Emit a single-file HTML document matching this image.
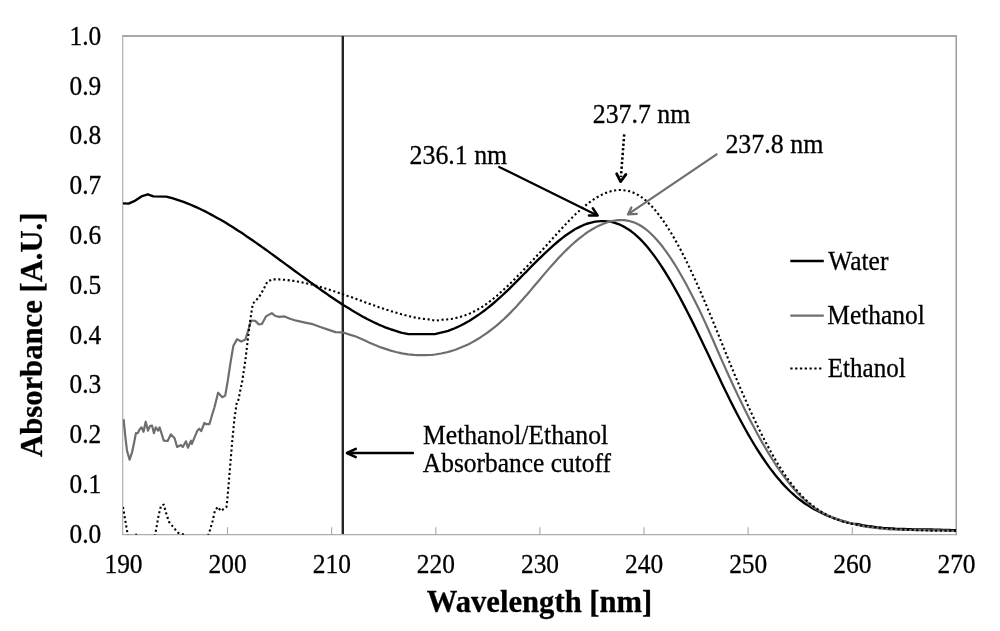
<!DOCTYPE html>
<html lang="en">
<head>
<meta charset="utf-8">
<title>UV absorbance spectra</title>
<style>
html,body{margin:0;padding:0;background:#fff;}
body{width:1000px;height:631px;overflow:hidden;}
svg{display:block;will-change:transform;filter:blur(0.45px);}
text{font-family:"Liberation Serif",serif;fill:#000;stroke:#000;stroke-width:0.3px;}
.t{font-size:26.5px;}
.b{font-size:31.5px;font-weight:bold;}
</style>
</head>
<body>
<svg width="1000" height="631" viewBox="0 0 1000 631">
<rect x="0" y="0" width="1000" height="631" fill="#fff"/>
<defs><clipPath id="pc"><rect x="123" y="36" width="834" height="498.8"/></clipPath></defs>
<!-- plot border -->
<path d="M122.2,36 H956.2 V535.2" fill="none" stroke="#8c8c8c" stroke-width="1.3"/>
<path d="M122.7,35.4 V534.7 H956.8" fill="none" stroke="#adadad" stroke-width="1.2"/>

<g stroke="#a8a8a8" stroke-width="1.1">
<line x1="227.5" y1="534.5" x2="227.5" y2="527.2"/>
<line x1="331.6" y1="534.5" x2="331.6" y2="527.2"/>
<line x1="435.8" y1="534.5" x2="435.8" y2="527.2"/>
<line x1="539.9" y1="534.5" x2="539.9" y2="527.2"/>
<line x1="644.0" y1="534.5" x2="644.0" y2="527.2"/>
<line x1="748.1" y1="534.5" x2="748.1" y2="527.2"/>
<line x1="852.3" y1="534.5" x2="852.3" y2="527.2"/>
</g>
<text class="t" text-anchor="end" transform="translate(101.3 542.7) scale(0.96 1)">0.0</text>
<text class="t" text-anchor="end" transform="translate(101.3 492.9) scale(0.96 1)">0.1</text>
<text class="t" text-anchor="end" transform="translate(101.3 443.1) scale(0.96 1)">0.2</text>
<text class="t" text-anchor="end" transform="translate(101.3 393.3) scale(0.96 1)">0.3</text>
<text class="t" text-anchor="end" transform="translate(101.3 343.5) scale(0.96 1)">0.4</text>
<text class="t" text-anchor="end" transform="translate(101.3 293.7) scale(0.96 1)">0.5</text>
<text class="t" text-anchor="end" transform="translate(101.3 243.9) scale(0.96 1)">0.6</text>
<text class="t" text-anchor="end" transform="translate(101.3 194.1) scale(0.96 1)">0.7</text>
<text class="t" text-anchor="end" transform="translate(101.3 144.3) scale(0.96 1)">0.8</text>
<text class="t" text-anchor="end" transform="translate(101.3 94.5) scale(0.96 1)">0.9</text>
<text class="t" text-anchor="end" transform="translate(101.3 44.7) scale(0.96 1)">1.0</text>
<text class="t" text-anchor="middle" transform="translate(123.5 573.3) scale(0.96 1)">190</text>
<text class="t" text-anchor="middle" transform="translate(227.6 573.3) scale(0.96 1)">200</text>
<text class="t" text-anchor="middle" transform="translate(331.8 573.3) scale(0.96 1)">210</text>
<text class="t" text-anchor="middle" transform="translate(435.9 573.3) scale(0.96 1)">220</text>
<text class="t" text-anchor="middle" transform="translate(540.0 573.3) scale(0.96 1)">230</text>
<text class="t" text-anchor="middle" transform="translate(644.1 573.3) scale(0.96 1)">240</text>
<text class="t" text-anchor="middle" transform="translate(748.2 573.3) scale(0.96 1)">250</text>
<text class="t" text-anchor="middle" transform="translate(852.4 573.3) scale(0.96 1)">260</text>
<text class="t" text-anchor="middle" transform="translate(956.5 573.3) scale(0.96 1)">270</text>
<text class="b" x="426.8" y="611.5" textLength="225.5" lengthAdjust="spacingAndGlyphs">Wavelength [nm]</text>
<text class="b" transform="translate(42.4,457) rotate(-90)" textLength="244.5" lengthAdjust="spacingAndGlyphs">Absorbance [A.U.]</text>
<line x1="342.8" y1="36" x2="342.8" y2="534" stroke="#242424" stroke-width="2.4"/>
<g clip-path="url(#pc)" fill="none" stroke-linejoin="round">
<path d="M122.6,203.3 L128.6,203.6 L134.2,201.2 L141.4,196.4 L147.8,194.3 L153.4,196.4 L166.2,196.6 L169.2,197.4 L172.2,198.2 L175.2,199.1 L178.2,200.1 L181.2,201.1 L184.2,202.2 L187.2,203.3 L190.2,204.5 L193.2,205.8 L196.2,207.1 L199.2,208.5 L202.2,210.0 L205.2,211.4 L208.2,213.0 L211.2,214.6 L214.2,216.2 L217.2,217.9 L220.2,219.6 L223.2,221.3 L226.2,223.1 L229.2,225.0 L232.2,226.8 L235.2,228.7 L238.2,230.7 L241.2,232.6 L244.2,234.6 L247.2,236.7 L250.2,238.7 L253.2,240.8 L256.2,242.9 L259.2,245.0 L262.2,247.1 L265.2,249.3 L268.2,251.4 L271.2,253.6 L274.2,255.8 L277.2,258.0 L280.2,260.2 L283.2,262.4 L286.2,264.6 L289.2,266.8 L292.2,269.0 L295.2,271.2 L298.2,273.4 L301.2,275.6 L304.2,277.8 L307.2,280.0 L310.2,282.1 L313.2,284.3 L316.2,286.5 L319.2,288.6 L322.2,290.7 L325.2,292.8 L328.2,294.9 L331.2,296.9 L334.2,298.9 L337.2,300.9 L340.2,302.9 L343.2,304.9 L346.2,306.8 L349.2,308.6 L352.2,310.5 L355.2,312.3 L358.2,314.0 L361.2,315.7 L364.2,317.4 L367.2,319.0 L370.2,320.5 L373.2,322.0 L376.2,323.4 L379.2,324.8 L382.2,326.0 L385.2,327.3 L388.2,328.4 L391.2,329.5 L394.2,330.4 L397.2,331.3 L401.0,332.6 L408.4,334.1 L434.8,334.1 L441.0,332.6 L445.2,331.7 L448.2,330.8 L451.2,329.7 L454.2,328.5 L457.2,327.2 L460.2,325.8 L463.2,324.2 L466.2,322.6 L469.2,320.9 L472.2,319.0 L475.2,317.1 L478.2,315.1 L481.2,312.9 L484.2,310.7 L487.2,308.4 L490.2,306.0 L493.2,303.5 L496.2,300.9 L499.2,298.2 L502.2,295.5 L505.2,292.7 L508.2,289.8 L511.2,286.9 L514.2,283.9 L517.2,280.9 L520.2,277.9 L523.2,274.8 L526.2,271.8 L529.2,268.7 L532.2,265.7 L535.2,262.7 L538.2,259.7 L541.2,256.8 L544.2,253.9 L547.2,251.1 L550.2,248.3 L553.2,245.6 L556.2,243.0 L559.2,240.5 L562.2,238.1 L565.2,235.8 L568.2,233.7 L571.2,231.7 L574.2,229.8 L577.2,228.1 L580.2,226.6 L583.2,225.2 L586.2,224.0 L589.2,223.1 L592.2,222.3 L595.2,221.7 L598.2,221.3 L601.2,221.1 L604.2,221.1 L607.2,221.3 L610.2,221.7 L613.2,222.4 L616.2,223.3 L619.2,224.4 L622.2,225.8 L625.2,227.4 L628.2,229.2 L631.2,231.3 L634.2,233.7 L637.2,236.3 L640.2,239.1 L643.2,242.3 L646.2,245.6 L649.2,249.2 L652.2,253.1 L655.2,257.1 L658.2,261.4 L661.2,265.8 L664.2,270.5 L667.2,275.3 L670.2,280.3 L673.2,285.5 L676.2,290.8 L679.2,296.3 L682.2,301.9 L685.2,307.6 L688.2,313.5 L691.2,319.4 L694.2,325.4 L697.2,331.6 L700.2,337.7 L703.2,344.0 L706.2,350.3 L709.2,356.6 L712.2,363.0 L715.2,369.3 L718.2,375.6 L721.2,381.9 L724.2,388.2 L727.2,394.3 L730.2,400.4 L733.2,406.4 L736.2,412.2 L739.2,418.0 L742.2,423.5 L745.2,429.0 L748.2,434.3 L751.2,439.5 L754.2,444.5 L757.2,449.3 L760.2,454.0 L763.2,458.5 L766.2,462.9 L769.2,467.1 L772.2,471.1 L775.2,474.9 L778.2,478.6 L781.2,482.1 L784.2,485.4 L787.2,488.5 L790.2,491.5 L793.2,494.2 L796.2,496.8 L799.2,499.3 L802.2,501.5 L805.2,503.7 L808.2,505.6 L811.2,507.5 L814.2,509.2 L817.2,510.8 L820.2,512.3 L823.2,513.7 L826.2,515.1 L829.2,516.3 L832.2,517.5 L835.2,518.6 L838.2,519.6 L841.2,520.6 L844.2,521.5 L847.2,522.3 L850.2,523.1 L853.2,523.8 L856.2,523.9 L859.2,524.5 L862.2,525.1 L865.2,525.6 L868.2,526.1 L871.2,526.5 L874.2,526.9 L877.2,527.3 L880.2,527.6 L883.2,527.9 L886.2,528.1 L889.2,528.3 L892.2,528.5 L895.2,528.7 L898.2,528.8 L901.2,528.9 L904.2,529.0 L907.2,529.1 L910.2,529.2 L913.2,529.3 L916.2,529.3 L919.2,529.4 L922.2,529.4 L925.2,529.4 L928.2,529.5 L931.2,529.5 L934.2,529.6 L937.2,529.6 L940.2,529.7 L943.2,529.8 L946.2,529.9 L949.2,530.0 L952.2,530.1 L955.2,530.2 L956.0,530.3" stroke="#000" stroke-width="2.35"/>
<path d="M123.6,419.2 L125.1,434.4 L127.0,450.8 L129.6,459.7 L132.1,452.1 L134.0,443.2 L135.9,433.1 L137.8,433.1 L139.7,429.3 L141.6,427.4 L143.5,431.8 L145.7,421.7 L148.0,430.6 L149.9,426.1 L152.0,425.5 L153.9,433.1 L155.8,427.4 L158.1,430.6 L159.6,427.4 L163.8,440.7 L167.6,441.0 L170.8,434.4 L174.6,438.2 L177.1,447.0 L180.9,445.1 L182.8,447.0 L186.0,441.3 L187.9,447.7 L191.0,440.7 L191.9,443.9 L194.2,438.2 L197.4,430.6 L199.3,428.7 L201.2,431.2 L204.4,423.0 L206.3,424.2 L209.4,424.2 L212.0,415.3 L214.4,407.5 L218.1,392.7 L222.3,397.2 L225.2,395.6 L227.8,380.7 L230.9,360.1 L233.4,345.7 L237.1,339.1 L241.2,341.5 L245.4,339.5 L248.5,329.2 L251.1,320.5 L255.3,320.9 L258.8,324.4 L261.9,324.0 L266.0,316.4 L271.8,313.1 L275.3,316.0 L279.4,316.8 L284.5,316.4 L290.0,318.8 L296.3,320.7 L305.2,322.6 L312.8,324.2 L320.4,327.0 L328.0,329.6 L335.6,332.1 L343.2,332.5 L349.6,334.6 L355.9,336.5 L366.0,340.9 L369.0,342.4 L372.0,343.7 L375.0,345.0 L378.0,346.2 L381.0,347.4 L384.0,348.4 L387.0,349.4 L390.0,350.4 L393.0,351.2 L396.0,352.0 L399.0,352.7 L402.0,353.3 L405.0,353.8 L408.0,354.3 L411.0,354.6 L414.0,354.9 L417.0,355.1 L420.0,355.2 L423.0,355.2 L426.0,355.2 L429.0,355.0 L432.0,354.8 L435.0,354.5 L438.0,354.0 L441.0,353.5 L444.0,352.9 L447.0,352.2 L450.0,351.4 L453.0,350.5 L456.0,349.5 L459.0,348.3 L462.0,347.1 L465.0,345.8 L468.0,344.4 L471.0,342.9 L474.0,341.3 L477.0,339.5 L480.0,337.7 L483.0,335.7 L486.0,333.7 L489.0,331.5 L492.0,329.2 L495.0,326.8 L498.0,324.3 L501.0,321.7 L504.0,319.0 L507.0,316.1 L510.0,313.1 L513.0,310.0 L516.0,306.9 L519.0,303.6 L522.0,300.2 L525.0,296.8 L528.0,293.4 L531.0,289.9 L534.0,286.3 L537.0,282.8 L540.0,279.2 L543.0,275.6 L546.0,272.1 L549.0,268.6 L552.0,265.2 L555.0,261.9 L558.0,258.6 L561.0,255.4 L564.0,252.3 L567.0,249.4 L570.0,246.5 L573.0,243.8 L576.0,241.1 L579.0,238.6 L582.0,236.3 L585.0,234.0 L588.0,231.9 L591.0,230.0 L594.0,228.2 L597.0,226.6 L600.0,225.2 L603.0,223.9 L606.0,222.8 L609.0,221.8 L612.0,221.1 L615.0,220.6 L618.0,220.2 L621.0,220.1 L624.0,220.2 L627.0,220.6 L630.0,221.2 L633.0,222.1 L636.0,223.3 L639.0,224.7 L642.0,226.5 L645.0,228.6 L648.0,231.0 L651.0,233.7 L654.0,236.7 L657.0,240.0 L660.0,243.5 L663.0,247.3 L666.0,251.3 L669.0,255.6 L672.0,260.1 L675.0,264.8 L678.0,269.8 L681.0,275.0 L684.0,280.3 L687.0,285.8 L690.0,291.5 L693.0,297.3 L696.0,303.2 L699.0,309.3 L702.0,315.6 L705.0,322.1 L708.0,328.7 L711.0,335.5 L714.0,342.3 L717.0,349.2 L720.0,356.1 L723.0,362.9 L726.0,369.6 L729.0,376.2 L732.0,382.8 L735.0,389.2 L738.0,395.6 L741.0,401.8 L744.0,408.0 L747.0,414.0 L750.0,419.9 L753.0,425.6 L756.0,431.3 L759.0,436.8 L762.0,442.1 L765.0,447.3 L768.0,452.4 L771.0,457.3 L774.0,462.0 L777.0,466.6 L780.0,471.0 L783.0,475.2 L786.0,479.2 L789.0,483.1 L792.0,486.8 L795.0,490.2 L798.0,493.5 L801.0,496.6 L804.0,499.5 L807.0,502.1 L810.0,504.6 L813.0,506.8 L816.0,508.9 L819.0,510.7 L822.0,512.4 L825.0,514.0 L828.0,515.4 L831.0,516.7 L834.0,517.9 L837.0,519.0 L840.0,520.1 L843.0,521.0 L846.0,521.9 L849.0,522.8 L852.0,523.5 L855.0,524.3 L858.0,525.1 L861.0,525.7 L864.0,526.3 L867.0,526.8 L870.0,527.2 L873.0,527.6 L876.0,528.0 L879.0,528.3 L882.0,528.6 L885.0,528.9 L888.0,529.1 L891.0,529.3 L894.0,529.5 L897.0,529.6 L900.0,529.7 L903.0,529.8 L906.0,529.9 L909.0,530.0 L912.0,530.0 L915.0,530.1 L918.0,530.1 L921.0,530.1 L924.0,530.2 L927.0,530.2 L930.0,530.3 L933.0,530.3 L936.0,530.3 L939.0,530.4 L942.0,530.5 L945.0,530.6 L948.0,530.7 L951.0,530.8 L954.0,531.0 L956.0,531.1" stroke="#6e6e6e" stroke-width="2.2"/>
<path d="M123.0,506.9 L127.6,534.0 L130.0,548.0 L134.0,540.0 L136.0,534.5 L138.0,540.0 L150.0,548.0 L155.2,534.5 L158.7,515.0 L161.0,505.7 L163.7,504.6 L166.0,512.6 L169.0,521.8 L173.6,527.6 L178.2,532.9 L184.0,534.5 L190.0,545.0 L203.0,545.0 L208.8,534.0 L212.7,520.7 L215.0,510.3 L218.0,506.9 L220.7,511.0 L226.5,506.9 L227.6,496.6 L229.9,469.0 L232.2,441.4 L234.5,418.4 L236.8,402.3 L238.1,401.3 L242.3,380.7 L245.4,360.1 L247.8,339.5 L250.3,319.6 L252.8,303.8 L259.2,296.8 L263.6,289.2 L267.4,281.6 L272.5,279.3 L275.5,279.4 L278.5,279.4 L281.5,279.6 L284.5,279.8 L287.5,280.1 L290.5,280.5 L293.5,280.9 L296.5,281.4 L299.5,281.9 L302.5,282.5 L305.5,283.1 L308.5,283.8 L311.5,284.5 L314.5,285.3 L317.5,286.1 L320.5,287.0 L323.5,287.9 L326.5,288.8 L329.5,289.7 L332.5,290.7 L335.5,291.7 L338.5,292.7 L341.5,293.8 L344.5,294.8 L347.5,295.9 L350.5,296.9 L353.5,298.0 L356.5,299.1 L359.5,300.2 L362.5,301.3 L365.5,302.4 L368.5,303.5 L371.5,304.6 L374.5,305.6 L377.5,306.7 L380.5,307.7 L383.5,308.7 L386.5,309.7 L389.5,310.7 L392.5,311.6 L395.5,312.5 L398.5,313.4 L401.5,314.3 L404.5,315.1 L407.5,315.8 L410.5,316.5 L413.5,317.2 L416.5,317.8 L419.5,318.3 L422.5,318.8 L428.0,319.3 L435.4,320.7 L442.0,319.7 L446.5,319.5 L449.5,319.2 L452.5,318.7 L455.5,318.1 L458.5,317.4 L461.5,316.5 L464.5,315.6 L467.5,314.4 L470.5,313.2 L473.5,311.7 L476.5,310.2 L479.5,308.5 L482.5,306.6 L485.5,304.6 L488.5,302.4 L491.5,300.1 L494.5,297.7 L497.5,295.2 L500.5,292.5 L503.5,289.8 L506.5,287.0 L509.5,284.1 L512.5,281.2 L515.5,278.3 L518.5,275.2 L521.5,272.2 L524.5,269.0 L527.5,265.9 L530.5,262.7 L533.5,259.5 L536.5,256.2 L539.5,253.0 L542.5,249.7 L545.5,246.4 L548.5,243.1 L551.5,239.8 L554.5,236.4 L557.5,233.1 L560.5,229.9 L563.5,226.6 L566.5,223.4 L569.5,220.3 L572.5,217.3 L575.5,214.3 L578.5,211.5 L581.5,208.8 L584.5,206.3 L587.5,203.9 L590.5,201.6 L593.5,199.5 L596.5,197.6 L599.5,195.9 L602.5,194.4 L605.5,193.1 L608.5,192.0 L611.5,191.1 L614.5,190.5 L617.5,190.1 L620.5,190.0 L623.5,190.2 L626.5,190.6 L629.5,191.3 L632.5,192.3 L635.5,193.6 L638.5,195.2 L641.5,197.2 L644.5,199.4 L647.5,202.0 L650.5,205.0 L653.5,208.2 L656.5,211.7 L659.5,215.6 L662.5,219.7 L665.5,224.1 L668.5,228.7 L671.5,233.6 L674.5,238.7 L677.5,244.1 L680.5,249.6 L683.5,255.4 L686.5,261.4 L689.5,267.6 L692.5,274.0 L695.5,280.5 L698.5,287.2 L701.5,294.0 L704.5,301.0 L707.5,308.1 L710.5,315.3 L713.5,322.6 L716.5,330.0 L719.5,337.4 L722.5,344.9 L725.5,352.3 L728.5,359.7 L731.5,367.0 L734.5,374.3 L737.5,381.4 L740.5,388.5 L743.5,395.4 L746.5,402.2 L749.5,408.9 L752.5,415.5 L755.5,421.8 L758.5,428.1 L761.5,434.1 L764.5,440.0 L767.5,445.7 L770.5,451.2 L773.5,456.5 L776.5,461.7 L779.5,466.6 L782.5,471.2 L785.5,475.7 L788.5,479.9 L791.5,483.9 L794.5,487.7 L797.5,491.2 L800.5,494.5 L803.5,497.6 L806.5,500.4 L809.5,503.1 L812.5,505.6 L815.5,507.9 L818.5,510.0 L821.5,511.9 L824.5,513.7 L827.5,515.3 L830.5,516.8 L833.5,518.1 L836.5,519.3 L839.5,520.4 L842.5,521.4 L845.5,522.2 L848.5,523.0 L851.5,523.7 L854.5,524.3 L857.5,524.9 L860.5,525.4 L863.5,525.8 L866.5,526.2 L869.5,526.6 L872.5,526.9 L875.5,527.3 L878.5,527.6 L881.5,527.9 L884.5,528.1 L887.5,528.4 L890.5,528.7 L893.5,528.9 L896.5,529.1 L899.5,529.3 L902.5,529.5 L905.5,529.7 L908.5,529.8 L911.5,530.0 L914.5,530.1 L917.5,530.2 L920.5,530.3 L923.5,530.4 L926.5,530.5 L929.5,530.6 L932.5,530.6 L935.5,530.7 L938.5,530.7 L941.5,530.7 L944.5,530.7 L947.5,530.7 L950.5,530.7 L953.5,530.7 L956.0,530.6" stroke="#000" stroke-width="2.1" stroke-dasharray="2.1 2.6"/>
</g>
<text class="t" transform="translate(409.6 163.6) scale(0.975 1)">236.1 nm</text>
<text class="t" transform="translate(592.8 123.1) scale(0.975 1)">237.7 nm</text>
<text class="t" transform="translate(725.4 152.8) scale(0.978 1)">237.8 nm</text>
<text class="t" transform="translate(423.0 443.5) scale(0.968 1)">Methanol/Ethanol</text>
<text class="t" transform="translate(422.8 471.7) scale(0.96 1)">Absorbance cutoff</text>
<g fill="none" stroke-linecap="round" stroke-linejoin="round">
<path d="M499.2,166.9 L596.5,214.9" stroke="#000" stroke-width="2.2"/>
<path d="M592.8,208.2 L597.6,215.4 L589,215.5" stroke="#000" stroke-width="2.5"/>
<path d="M716.6,154.3 L629,213.6" stroke="#6e6e6e" stroke-width="2.2"/>
<path d="M631.4,207.5 L628,214.4 L636.8,213.8" stroke="#6e6e6e" stroke-width="2.3"/>
<path d="M624.2,134.4 L620.9,177" stroke="#000" stroke-width="2.6" stroke-dasharray="2.3 2.3" stroke-linecap="butt"/>
<path d="M616.7,173.8 L620.6,181.6 L625.9,174.4" stroke="#000" stroke-width="2.8"/>
<path d="M412.9,453 L347.5,453" stroke="#000" stroke-width="2.4"/>
<path d="M355.8,448.9 L346.9,453 L355.8,457.1" stroke="#000" stroke-width="2.5"/>
</g>
<line x1="790.3" y1="261" x2="823.8" y2="261" stroke="#000" stroke-width="2.6"/>
<line x1="790.3" y1="315.6" x2="823.8" y2="315.6" stroke="#6e6e6e" stroke-width="2.2"/>
<line x1="790.3" y1="368.6" x2="823.8" y2="368.6" stroke="#000" stroke-width="2" stroke-dasharray="2.3 2.5"/>
<text class="t" transform="translate(828.3 269.5) scale(0.96 1)">Water</text>
<text class="t" transform="translate(827.3 323.6) scale(0.96 1)">Methanol</text>
<text class="t" transform="translate(827.8 376.6) scale(0.945 1)">Ethanol</text>
</svg>
</body>
</html>
